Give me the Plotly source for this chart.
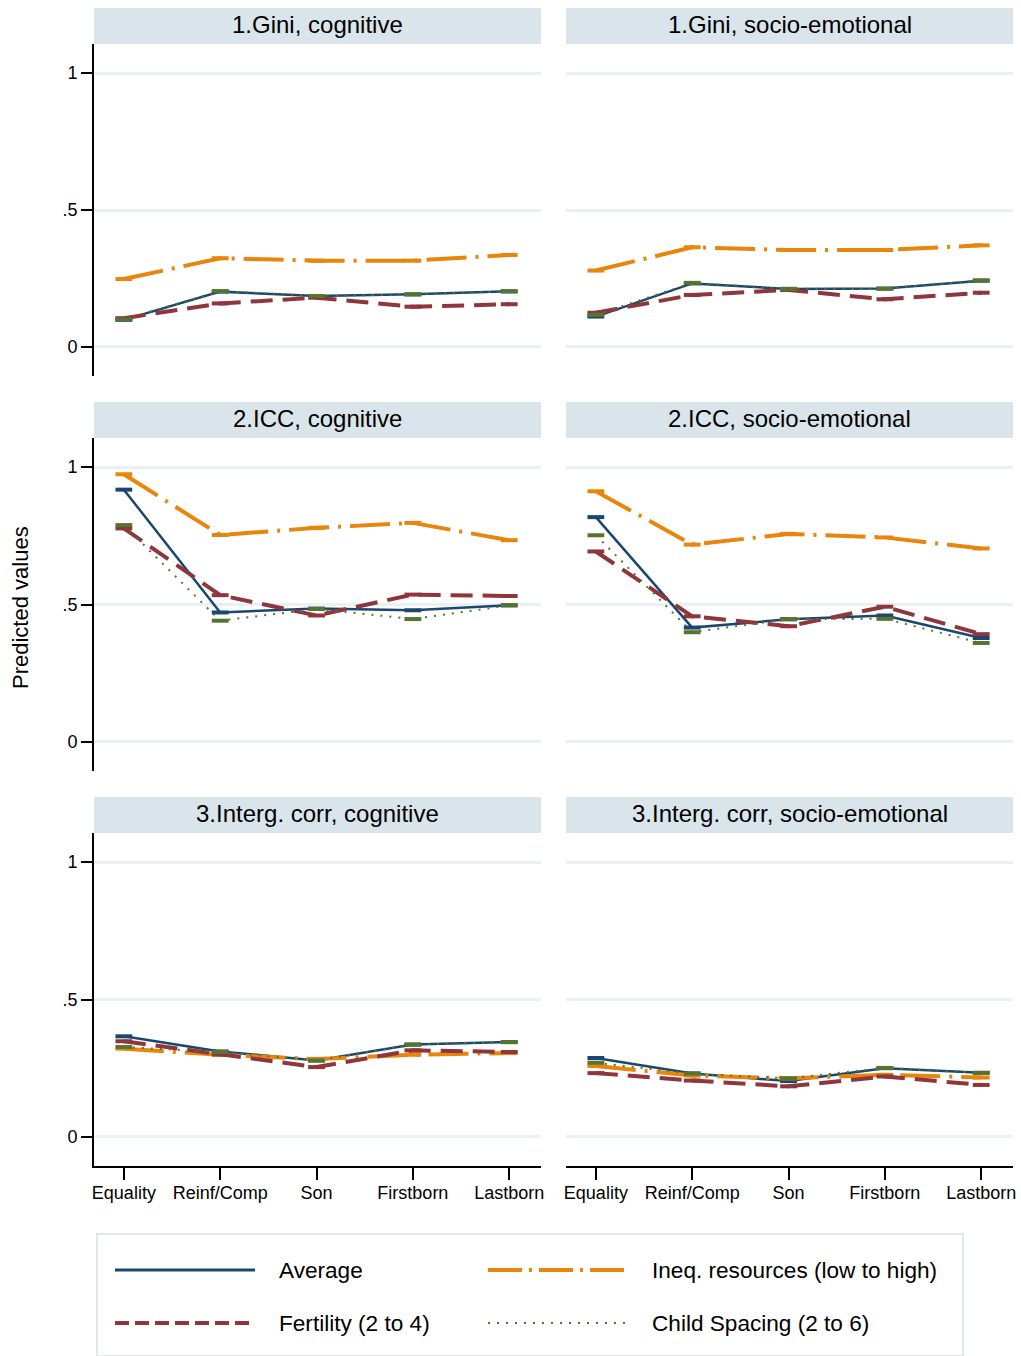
import plotly.graph_objects as go

# ---- data -----------------------------------------------------------------
categories = ["Equality", "Reinf/Comp", "Son", "Firstborn", "Lastborn"]

panel_titles = [
    "1.Gini, cognitive", "1.Gini, socio-emotional",
    "2.ICC, cognitive", "2.ICC, socio-emotional",
    "3.Interg. corr, cognitive", "3.Interg. corr, socio-emotional",
]

gini_cog_average = [0.099, 0.202, 0.186, 0.192, 0.203]
gini_cog_ineq = [0.248, 0.324, 0.315, 0.315, 0.336]
gini_cog_fertility = [0.105, 0.159, 0.180, 0.147, 0.156]
gini_cog_spacing = [0.101, 0.204, 0.186, 0.192, 0.203]

gini_se_average = [0.111, 0.232, 0.212, 0.213, 0.242]
gini_se_ineq = [0.279, 0.364, 0.354, 0.354, 0.371]
gini_se_fertility = [0.125, 0.190, 0.208, 0.174, 0.198]
gini_se_spacing = [0.117, 0.234, 0.212, 0.213, 0.243]

icc_cog_average = [0.918, 0.471, 0.485, 0.479, 0.497]
icc_cog_ineq = [0.974, 0.753, 0.779, 0.797, 0.734]
icc_cog_fertility = [0.777, 0.534, 0.460, 0.536, 0.531]
icc_cog_spacing = [0.789, 0.441, 0.484, 0.447, 0.497]

icc_se_average = [0.818, 0.416, 0.446, 0.460, 0.378]
icc_se_ineq = [0.912, 0.718, 0.757, 0.744, 0.704]
icc_se_fertility = [0.693, 0.457, 0.421, 0.492, 0.392]
icc_se_spacing = [0.752, 0.399, 0.447, 0.448, 0.360]

ig_cog_average = [0.366, 0.311, 0.278, 0.336, 0.345]
ig_cog_ineq = [0.321, 0.299, 0.283, 0.299, 0.305]
ig_cog_fertility = [0.348, 0.300, 0.254, 0.315, 0.309]
ig_cog_spacing = [0.327, 0.309, 0.278, 0.336, 0.345]

ig_se_average = [0.287, 0.231, 0.203, 0.250, 0.233]
ig_se_ineq = [0.258, 0.223, 0.213, 0.226, 0.216]
ig_se_fertility = [0.232, 0.205, 0.184, 0.220, 0.189]
ig_se_spacing = [0.270, 0.230, 0.213, 0.251, 0.233]

series_names = ["Average", "Ineq. resources (low to high)",
                "Fertility (2 to 4)", "Child Spacing (2 to 6)"]

panels = [
    [gini_cog_average, gini_cog_ineq, gini_cog_fertility, gini_cog_spacing],
    [gini_se_average, gini_se_ineq, gini_se_fertility, gini_se_spacing],
    [icc_cog_average, icc_cog_ineq, icc_cog_fertility, icc_cog_spacing],
    [icc_se_average, icc_se_ineq, icc_se_fertility, icc_se_spacing],
    [ig_cog_average, ig_cog_ineq, ig_cog_fertility, ig_cog_spacing],
    [ig_se_average, ig_se_ineq, ig_se_fertility, ig_se_spacing],
]

# ---- styling ----------------------------------------------------------------
W, H = 1021, 1356
FONT = "Liberation Sans, Arial, Helvetica, sans-serif"
STRIP = "#d9e5eb"
GRID = "#eaf0f3"

styles = [
    dict(color="#1a476f", width=2.5, dash="solid"),
    dict(color="#e8850a", width=4, dash="40px,9px,3px,9px"),
    dict(color="#90353b", width=4, dash="22px,10px"),
    dict(color="#55752f", width=2, dash="2px,7px"),
]

col_px = [(94, 541), (566, 1013)]
row_px = [(44, 376), (438, 771), (833, 1166)]
strip_px = [(8, 44), (402, 438), (797, 833)]

def px_x(v):
    return v / W

def px_y(v):
    return 1 - v / H

x_pos = list(range(1, len(categories) + 1))
XR = [0.69, 5.33]
YR = [-0.106, 1.106]

fig = go.Figure()
layout = dict(
    width=W, height=H,
    margin=dict(l=0, r=0, t=0, b=0, autoexpand=False),
    paper_bgcolor="white", plot_bgcolor="white",
    showlegend=False,
    font=dict(family=FONT, color="black"),
)
shapes = []
annotations = []

for i, data in enumerate(panels):
    r, c = divmod(i, 2)
    n = i + 1
    xa = "x" if n == 1 else f"x{n}"
    ya = "y" if n == 1 else f"y{n}"
    xkey = "xaxis" if n == 1 else f"xaxis{n}"
    ykey = "yaxis" if n == 1 else f"yaxis{n}"
    bottom = (r == 2)
    left = (c == 0)

    layout[xkey] = dict(
        domain=[px_x(col_px[c][0]), px_x(col_px[c][1])],
        anchor=ya, range=XR, tickvals=x_pos, ticktext=categories,
        showgrid=False, zeroline=False, automargin=False,
        showline=bottom, linecolor="black", linewidth=2,
        ticks="outside" if bottom else "", ticklen=12, tickwidth=2,
        tickcolor="black", showticklabels=bottom, ticklabelstandoff=-3,
        tickfont=dict(size=18, family=FONT, color="black"),
    )
    layout[ykey] = dict(
        domain=[px_y(row_px[r][1]), px_y(row_px[r][0])],
        anchor=xa, range=YR, tickvals=[0, 0.5, 1], ticktext=["0", ".5", "1"],
        showgrid=True, gridcolor=GRID, gridwidth=2.5, zeroline=False,
        automargin=False,
        showline=left, linecolor="black", linewidth=2,
        ticks="outside" if left else "", ticklen=11, tickwidth=2,
        tickcolor="black", showticklabels=left,
        tickfont=dict(size=18, family=FONT, color="black"),
    )

    for s, vals in enumerate(data):
        st = styles[s]
        fig.add_trace(go.Scatter(
            x=x_pos, y=vals, xaxis=xa, yaxis=ya, name=series_names[s],
            mode="lines+markers",
            line=dict(color=st["color"], width=st["width"], dash=st["dash"]),
            marker=dict(symbol="line-ew", size=12,
                        line=dict(color=st["color"], width=4)),
            hoverinfo="skip",
        ))

    # panel header strip
    shapes.append(dict(
        type="rect", xref="paper", yref="paper",
        x0=px_x(col_px[c][0]), x1=px_x(col_px[c][1]),
        y0=px_y(strip_px[r][1]), y1=px_y(strip_px[r][0]),
        fillcolor=STRIP, line=dict(width=0), layer="below",
    ))
    annotations.append(dict(
        text=panel_titles[i], xref="paper", yref="paper",
        x=px_x((col_px[c][0] + col_px[c][1]) / 2),
        y=px_y((strip_px[r][0] + strip_px[r][1]) / 2 - 2),
        xanchor="center", yanchor="middle", showarrow=False,
        font=dict(size=24, family=FONT, color="black"),
    ))

# y-axis title
annotations.append(dict(
    text="Predicted values", xref="paper", yref="paper",
    x=px_x(20), y=px_y(608), textangle=-90,
    xanchor="center", yanchor="middle", showarrow=False,
    font=dict(size=22, family=FONT, color="black"),
))

# legend box
shapes.append(dict(
    type="rect", xref="paper", yref="paper",
    x0=px_x(97), x1=px_x(963), y0=px_y(1356), y1=px_y(1234),
    fillcolor="white", line=dict(color="#dfe8ee", width=2),
))
legend_keys = [
    (115, 255, 277, 1270, dict(color="#1a476f", width=3, dash="solid")),
    (488, 630, 650, 1270, dict(color="#e8850a", width=4, dash="34px,7px,3px,7px")),
    (115, 255, 277, 1323, dict(color="#90353b", width=4, dash="14px,6px")),
    (488, 630, 650, 1323, dict(color="#55752f", width=2, dash="2px,7px")),
]
for (lx0, lx1, tx, ly, ln), label in zip(legend_keys, series_names):
    shapes.append(dict(
        type="line", xref="paper", yref="paper",
        x0=px_x(lx0), x1=px_x(lx1), y0=px_y(ly), y1=px_y(ly), line=ln,
    ))
    annotations.append(dict(
        text=label, xref="paper", yref="paper",
        x=px_x(tx), y=px_y(ly), xanchor="left", yanchor="middle",
        showarrow=False, font=dict(size=22.6, family=FONT, color="black"),
    ))

layout["shapes"] = shapes
layout["annotations"] = annotations
fig.update_layout(**layout)
fig.write_html("out.html")
